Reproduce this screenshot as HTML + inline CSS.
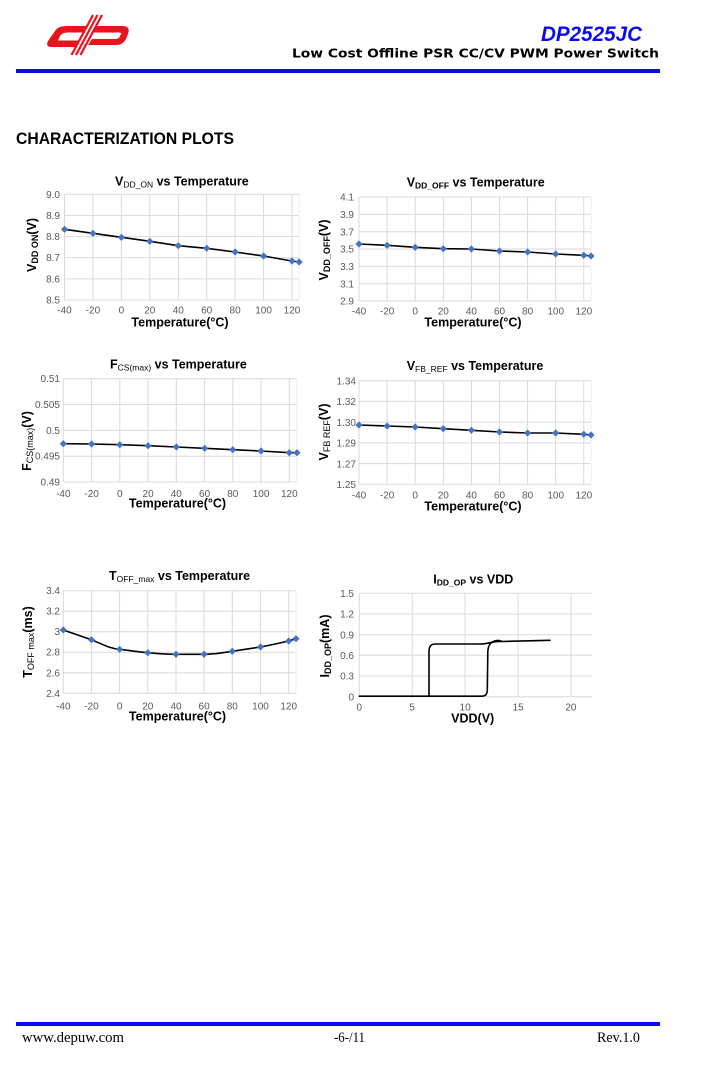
<!DOCTYPE html>
<html><head><meta charset="utf-8"><style>
html,body{margin:0;padding:0;background:#fff;}
svg{display:block;}
.tk{font-family:"Liberation Sans",sans-serif;font-size:10px;fill:#595959;}
.ttl{font-family:"Liberation Sans",sans-serif;font-size:12.5px;font-weight:bold;fill:#000;}
.ax{font-family:"Liberation Sans",sans-serif;font-size:12.5px;font-weight:bold;fill:#000;}
.g{stroke:#d9d9d9;stroke-width:1;fill:none;}
.ln{stroke:#000;stroke-width:1.6;fill:none;stroke-linejoin:round;stroke-linecap:round;}
.ft{font-family:"Liberation Serif",serif;font-size:14.5px;fill:#000;}
</style></head><body>
<svg width="714" height="1066" viewBox="0 0 714 1066" xmlns="http://www.w3.org/2000/svg">
<defs><path id="d" d="M0,-3.6L3.6,0L0,3.6L-3.6,0Z" fill="#4472c4"/></defs>
<rect width="714" height="1066" fill="#fff"/>

<!-- Logo -->
<g>
<path d="M66,26 L90,26 L86,32.5 L68,32.5 Q62,32.5 60,36 L58,40.5 L82,40.5 L78,47 L52,47 Q45,47 48,41 L55,31 Q58,26 66,26 Z" fill="#e8141c"/>
<path d="M94,26 L122,26 Q131,26 128,34 L126,39 Q123,45 116,45 L88,45 L92,39 L115,39 Q119,39 120,36 L121,34 Q122,32.5 119,32.5 L90,32.5 Z" fill="#e8141c"/>
<line x1="97.5" y1="15" x2="76" y2="55" stroke="#fff" stroke-width="9.5"/>
<line x1="93" y1="15" x2="71.5" y2="55" stroke="#e8141c" stroke-width="2.2"/>
<line x1="97.5" y1="15" x2="76" y2="55" stroke="#e8141c" stroke-width="2.2"/>
<line x1="102" y1="15" x2="80.5" y2="55" stroke="#e8141c" stroke-width="2.2"/>
</g>

<!-- Header -->
<text x="541" y="41" font-family="Liberation Sans, sans-serif" font-size="21" font-weight="bold" font-style="italic" fill="#0a0af0" textLength="101" lengthAdjust="spacingAndGlyphs">DP2525JC</text>
<text x="292" y="57.5" font-family="DejaVu Sans, sans-serif" font-size="12" font-weight="bold" fill="#000" textLength="367" lengthAdjust="spacingAndGlyphs">Low Cost Offline PSR CC/CV PWM Power Switch</text>
<rect x="16" y="69" width="644" height="4" fill="#0a0af0"/>

<text x="16" y="144" font-family="Liberation Sans, sans-serif" font-size="17" font-weight="bold" fill="#000" textLength="218" lengthAdjust="spacingAndGlyphs">CHARACTERIZATION PLOTS</text>

<!-- ============ Chart 1 ============ -->
<g>
<path class="g" d="M64.5,194.3H299.1M64.5,215.4H299.1M64.5,236.6H299.1M64.5,257.7H299.1M64.5,278.9H299.1M64.5,300H299.1"/>
<path class="g" d="M64.5,194.3V300M92.9,194.3V300M121.4,194.3V300M149.8,194.3V300M178.3,194.3V300M206.7,194.3V300M235.1,194.3V300M263.6,194.3V300M292,194.3V300"/>
<path d="M299.1,194.3V300" stroke="#eeeeee" stroke-width="1"/>
<g class="tk" text-anchor="end">
<text x="60" y="197.8">9.0</text><text x="60" y="218.9">8.9</text><text x="60" y="240.1">8.8</text><text x="60" y="261.2">8.7</text><text x="60" y="282.4">8.6</text><text x="60" y="303.5">8.5</text>
</g>
<g class="tk" text-anchor="middle">
<text x="64.5" y="313.5">-40</text><text x="92.9" y="313.5">-20</text><text x="121.4" y="313.5">0</text><text x="149.8" y="313.5">20</text><text x="178.3" y="313.5">40</text><text x="206.7" y="313.5">60</text><text x="235.1" y="313.5">80</text><text x="263.6" y="313.5">100</text><text x="292" y="313.5">120</text>
</g>
<polyline class="ln" points="64.5,229.3 92.9,233.3 121.4,237.3 149.8,241.3 178.3,245.7 206.7,248.3 235.1,252 263.6,256 292,261 299.1,262"/>
<use href="#d" x="64.5" y="229.3"/><use href="#d" x="92.9" y="233.3"/><use href="#d" x="121.4" y="237.3"/><use href="#d" x="149.8" y="241.3"/><use href="#d" x="178.3" y="245.7"/><use href="#d" x="206.7" y="248.3"/><use href="#d" x="235.1" y="252"/><use href="#d" x="263.6" y="256"/><use href="#d" x="292" y="261"/><use href="#d" x="299.1" y="262"/>
<text class="ttl" x="115" y="185.5">V<tspan font-size="8.5" font-weight="normal" dy="2">DD_ON</tspan><tspan dy="-2"> vs Temperature</tspan></text>
<text class="ax" x="180" y="326.5" text-anchor="middle">Temperature(°C)</text>
<text class="ax" transform="translate(36,245) rotate(-90)" text-anchor="middle" font-size="13">V<tspan font-size="9" dy="2">DD ON</tspan><tspan dy="-2">(V)</tspan></text>
</g>

<!-- ============ Chart 2 ============ -->
<g>
<path class="g" d="M359,197H591M359,214.3H591M359,231.7H591M359,249H591M359,266.3H591M359,283.7H591M359,301H591"/>
<path class="g" d="M359,197V301M387.1,197V301M415.2,197V301M443.3,197V301M471.4,197V301M499.5,197V301M527.6,197V301M555.7,197V301M583.8,197V301"/>
<path d="M591,197V301" stroke="#eeeeee" stroke-width="1"/>
<g class="tk" text-anchor="end" font-size="10.5">
<text x="354" y="200.7">4.1</text><text x="354" y="218">3.9</text><text x="354" y="235.4">3.7</text><text x="354" y="252.7">3.5</text><text x="354" y="270">3.3</text><text x="354" y="287.4">3.1</text><text x="354" y="304.7">2.9</text>
</g>
<g class="tk" text-anchor="middle" font-size="10.5">
<text x="359" y="314.3">-40</text><text x="387.1" y="314.3">-20</text><text x="415.2" y="314.3">0</text><text x="443.3" y="314.3">20</text><text x="471.4" y="314.3">40</text><text x="499.5" y="314.3">60</text><text x="527.6" y="314.3">80</text><text x="555.7" y="314.3">100</text><text x="583.8" y="314.3">120</text>
</g>
<polyline class="ln" points="359,244 387.1,245.3 415.2,247.3 443.3,248.7 471.4,249 499.5,251 527.6,252 555.7,254 583.8,255.3 591,256"/>
<use href="#d" x="359" y="244"/><use href="#d" x="387.1" y="245.3"/><use href="#d" x="415.2" y="247.3"/><use href="#d" x="443.3" y="248.7"/><use href="#d" x="471.4" y="249"/><use href="#d" x="499.5" y="251"/><use href="#d" x="527.6" y="252"/><use href="#d" x="555.7" y="254"/><use href="#d" x="583.8" y="255.3"/><use href="#d" x="591" y="256"/>
<text class="ttl" x="406.7" y="186.5">V<tspan font-size="8.5" dy="2">DD_OFF</tspan><tspan dy="-2"> vs Temperature</tspan></text>
<text class="ax" x="473" y="326.7" text-anchor="middle">Temperature(°C)</text>
<text class="ax" transform="translate(328,250) rotate(-90)" text-anchor="middle" font-size="13">V<tspan font-size="9" dy="2">DD_OFF</tspan><tspan dy="-2">(V)</tspan></text>
</g>

<!-- ============ Chart 3 ============ -->
<g>
<path class="g" d="M63.3,378.7H297M63.3,404.5H297M63.3,430.3H297M63.3,456.2H297M63.3,482H297"/>
<path class="g" d="M63.3,378.7V482M91.6,378.7V482M119.8,378.7V482M148.1,378.7V482M176.3,378.7V482M204.6,378.7V482M232.8,378.7V482M261.1,378.7V482M289.3,378.7V482"/>
<path d="M297,378.7V482" stroke="#eeeeee" stroke-width="1"/>
<g class="tk" text-anchor="end">
<text x="60" y="382.2">0.51</text><text x="60" y="408">0.505</text><text x="60" y="433.8">0.5</text><text x="60" y="459.7">0.495</text><text x="60" y="485.5">0.49</text>
</g>
<g class="tk" text-anchor="middle">
<text x="63.3" y="497">-40</text><text x="91.6" y="497">-20</text><text x="119.8" y="497">0</text><text x="148.1" y="497">20</text><text x="176.3" y="497">40</text><text x="204.6" y="497">60</text><text x="232.8" y="497">80</text><text x="261.1" y="497">100</text><text x="289.3" y="497">120</text>
</g>
<polyline class="ln" points="63.3,443.7 91.6,444 119.8,444.7 148.1,445.7 176.3,447 204.6,448.3 232.8,449.7 261.1,451 289.3,452.7 297,452.7"/>
<use href="#d" x="63.3" y="443.7"/><use href="#d" x="91.6" y="444"/><use href="#d" x="119.8" y="444.7"/><use href="#d" x="148.1" y="445.7"/><use href="#d" x="176.3" y="447"/><use href="#d" x="204.6" y="448.3"/><use href="#d" x="232.8" y="449.7"/><use href="#d" x="261.1" y="451"/><use href="#d" x="289.3" y="452.7"/><use href="#d" x="297" y="452.7"/>
<text class="ttl" x="110" y="368.3">F<tspan font-size="8.5" font-weight="normal" dy="2">CS(max)</tspan><tspan dy="-2"> vs Temperature</tspan></text>
<text class="ax" x="177.5" y="507.7" text-anchor="middle">Temperature(°C)</text>
<text class="ax" transform="translate(31,441) rotate(-90)" text-anchor="middle" font-size="13">F<tspan font-size="9" font-weight="normal" dy="2">CS(max)</tspan><tspan dy="-2">(V)</tspan></text>
</g>

<!-- ============ Chart 4 ============ -->
<g>
<path class="g" d="M359,380.7H591M359,401.4H591M359,422.1H591M359,442.9H591M359,463.6H591M359,484.3H591"/>
<path class="g" d="M359,380.7V484.3M387.1,380.7V484.3M415.2,380.7V484.3M443.3,380.7V484.3M471.4,380.7V484.3M499.5,380.7V484.3M527.6,380.7V484.3M555.7,380.7V484.3M583.8,380.7V484.3"/>
<path d="M591,380.7V484.3" stroke="#eeeeee" stroke-width="1"/>
<g class="tk" text-anchor="end" font-size="10.5">
<text x="356" y="384.4">1.34</text><text x="356" y="405.1">1.32</text><text x="356" y="425.8">1.30</text><text x="356" y="446.6">1.29</text><text x="356" y="467.3">1.27</text><text x="356" y="488">1.25</text>
</g>
<g class="tk" text-anchor="middle" font-size="10.5">
<text x="359" y="498.5">-40</text><text x="387.1" y="498.5">-20</text><text x="415.2" y="498.5">0</text><text x="443.3" y="498.5">20</text><text x="471.4" y="498.5">40</text><text x="499.5" y="498.5">60</text><text x="527.6" y="498.5">80</text><text x="555.7" y="498.5">100</text><text x="583.8" y="498.5">120</text>
</g>
<polyline class="ln" points="359,425 387.1,426 415.2,427 443.3,428.7 471.4,430.3 499.5,432 527.6,433 555.7,433 583.8,434.3 591,435"/>
<use href="#d" x="359" y="425"/><use href="#d" x="387.1" y="426"/><use href="#d" x="415.2" y="427"/><use href="#d" x="443.3" y="428.7"/><use href="#d" x="471.4" y="430.3"/><use href="#d" x="499.5" y="432"/><use href="#d" x="527.6" y="433"/><use href="#d" x="555.7" y="433"/><use href="#d" x="583.8" y="434.3"/><use href="#d" x="591" y="435"/>
<text class="ttl" x="406.7" y="370">V<tspan font-size="8.5" font-weight="normal" dy="2">FB_REF</tspan><tspan dy="-2"> vs Temperature</tspan></text>
<text class="ax" x="473" y="510.7" text-anchor="middle">Temperature(°C)</text>
<text class="ax" transform="translate(328,432) rotate(-90)" text-anchor="middle" font-size="13">V<tspan font-size="9" font-weight="normal" dy="2">FB REF</tspan><tspan dy="-2">(V)</tspan></text>
</g>

<!-- ============ Chart 5 ============ -->
<g>
<path class="g" d="M63.3,590.7H296M63.3,611.2H296M63.3,631.7H296M63.3,652.2H296M63.3,672.8H296M63.3,693.3H296"/>
<path class="g" d="M63.3,590.7V693.3M91.4,590.7V693.3M119.6,590.7V693.3M147.8,590.7V693.3M176,590.7V693.3M204.1,590.7V693.3M232.3,590.7V693.3M260.5,590.7V693.3M288.7,590.7V693.3"/>
<path d="M296,590.7V693.3" stroke="#eeeeee" stroke-width="1"/>
<g class="tk" text-anchor="end">
<text x="60" y="594.2">3.4</text><text x="60" y="614.7">3.2</text><text x="60" y="635.2">3</text><text x="60" y="655.7">2.8</text><text x="60" y="676.3">2.6</text><text x="60" y="696.8">2.4</text>
</g>
<g class="tk" text-anchor="middle">
<text x="63.3" y="709.5">-40</text><text x="91.4" y="709.5">-20</text><text x="119.6" y="709.5">0</text><text x="147.8" y="709.5">20</text><text x="176" y="709.5">40</text><text x="204.1" y="709.5">60</text><text x="232.3" y="709.5">80</text><text x="260.5" y="709.5">100</text><text x="288.7" y="709.5">120</text>
</g>
<path class="ln" d="M63.3,630 L91.4,639.7 C104,645 110,648.5 119.6,649.3 C130,650.5 138,652 147.8,652.7 C158,653.6 166,654.3 176,654.3 L204.1,654.3 C214,654.2 222,653 232.3,651.3 C242,649.8 250,648.6 260.5,647 C271,645 280,643 288.7,641 L296,638.7"/>
<use href="#d" x="63.3" y="630"/><use href="#d" x="91.4" y="639.7"/><use href="#d" x="119.6" y="649.3"/><use href="#d" x="147.8" y="652.7"/><use href="#d" x="176" y="654.3"/><use href="#d" x="204.1" y="654.3"/><use href="#d" x="232.3" y="651.3"/><use href="#d" x="260.5" y="647"/><use href="#d" x="288.7" y="641"/><use href="#d" x="296" y="638.7"/>
<text class="ttl" x="109" y="580">T<tspan font-size="8.5" font-weight="normal" dy="2">OFF_max</tspan><tspan dy="-2"> vs Temperature</tspan></text>
<text class="ax" x="177.5" y="720.7" text-anchor="middle">Temperature(°C)</text>
<text class="ax" transform="translate(32,642) rotate(-90)" text-anchor="middle" font-size="13">T<tspan font-size="9" font-weight="normal" dy="2">OFF max</tspan><tspan dy="-2">(ms)</tspan></text>
</g>

<!-- ============ Chart 6 ============ -->
<g>
<path class="g" d="M359.3,593.3H592M359.3,614H592M359.3,634.7H592M359.3,655.3H592M359.3,676H592M359.3,696.7H592"/>
<path class="g" d="M359.3,593.3V696.7M412.2,593.3V696.7M465.1,593.3V696.7M518,593.3V696.7M570.9,593.3V696.7"/>
<g class="tk" text-anchor="end" font-size="10.5">
<text x="354" y="597">1.5</text><text x="354" y="617.7">1.2</text><text x="354" y="638.4">0.9</text><text x="354" y="659">0.6</text><text x="354" y="679.7">0.3</text><text x="354" y="700.4">0</text>
</g>
<g class="tk" text-anchor="middle" font-size="10.5">
<text x="359.3" y="710.5">0</text><text x="412.2" y="710.5">5</text><text x="465.1" y="710.5">10</text><text x="518" y="710.5">15</text><text x="570.9" y="710.5">20</text>
</g>
<path class="ln" d="M359.3,696.2 L481,696.2 C485.5,696.2 487.2,694.5 487.3,690 L487.8,652 C488,646 490,642.5 494,641.2 C497,640 499.5,640.3 502,641.5 L550,640.3"/>
<path class="ln" d="M429,696.2 L429,652 C429,646.5 430.5,644 436,644 L480,644 C485,644 488,643.2 492,642.3 C495,641.5 498,641.2 502,641.5"/>
<text class="ttl" x="433.3" y="583.5">I<tspan font-size="8.5" dy="2">DD_OP</tspan><tspan dy="-2"> vs VDD</tspan></text>
<text class="ax" x="472.7" y="722.7" text-anchor="middle">VDD(V)</text>
<text class="ax" transform="translate(329,646) rotate(-90)" text-anchor="middle" font-size="13">I<tspan font-size="9" dy="2">DD_OP</tspan><tspan dy="-2">(mA)</tspan></text>
</g>

<!-- Footer -->
<rect x="16" y="1022" width="644" height="4" fill="#0a0af0"/>
<text class="ft" x="22" y="1042" textLength="102" lengthAdjust="spacingAndGlyphs">www.depuw.com</text>
<text class="ft" x="334" y="1042" textLength="31" lengthAdjust="spacingAndGlyphs">-6-/11</text>
<text class="ft" x="597" y="1042" textLength="43" lengthAdjust="spacingAndGlyphs">Rev.1.0</text>
</svg>
</body></html>
